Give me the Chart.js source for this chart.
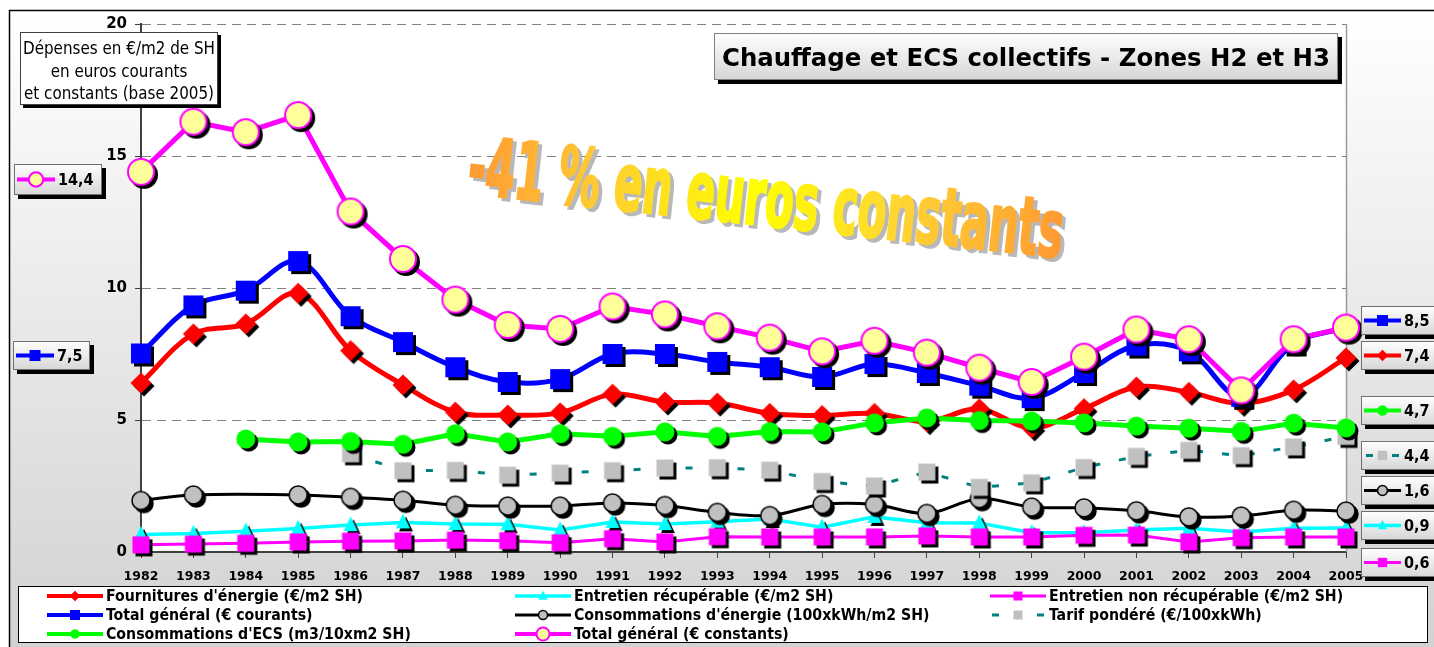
<!DOCTYPE html>
<html>
<head>
<meta charset="utf-8">
<script src="https://cdn.jsdelivr.net/npm/chart.js@4.4.0/dist/chart.umd.min.js"></script>
<style>
html,body{margin:0;padding:0;background:#fff}
#wrap{width:1434px;height:647px}
</style>
</head>
<body>
<div id="wrap"><canvas id="c" width="1434" height="647"></canvas></div>
<script>
// Chauffage et ECS collectifs - Zones H2 et H3 (1982-2005)
const years=["1982","1983","1984","1985","1986","1987","1988","1989","1990","1991","1992","1993","1994","1995","1996","1997","1998","1999","2000","2001","2002","2003","2004","2005"];
const fournitures=[6.4,8.26,8.64,9.8,7.63,6.33,5.3,5.19,5.27,5.98,5.68,5.64,5.25,5.17,5.25,4.94,5.42,4.7,5.43,6.25,6.05,5.63,6.14,7.35];
const totalCourants=[7.52,9.34,9.9,11.02,8.93,7.95,7.0,6.44,6.55,7.5,7.5,7.2,7.0,6.63,7.12,6.78,6.3,5.83,6.78,7.82,7.6,5.88,7.9,8.5];
const consoECS=[null,null,4.28,4.17,4.19,4.08,4.48,4.17,4.48,4.38,4.55,4.38,4.56,4.55,4.89,5.08,4.98,4.96,4.89,4.77,4.69,4.57,4.88,4.7];
const entretienRecup=[0.66,0.7,0.79,0.89,1.02,1.12,1.06,1.05,0.83,1.14,1.06,1.15,1.25,0.94,1.33,1.11,1.1,0.73,0.73,0.83,0.9,0.76,0.9,0.91];
const consoEnergie=[1.95,2.16,null,2.16,2.07,1.96,1.77,1.74,1.74,1.86,1.76,1.5,1.38,1.8,1.8,1.46,2.02,1.7,1.67,1.56,1.33,1.36,1.58,1.55];
const totalConstants=[14.4,16.3,15.9,16.55,12.9,11.1,9.56,8.6,8.45,9.3,9.0,8.55,8.12,7.6,8.0,7.55,6.98,6.44,7.4,8.43,8.06,6.12,8.06,8.5];
const entretienNonRecup=[0.27,0.3,0.33,0.38,0.41,0.42,0.45,0.43,0.35,0.5,0.38,0.58,0.57,0.57,0.57,0.61,0.57,0.57,0.63,0.64,0.38,0.54,0.57,0.57];
const tarif=[null,null,null,null,3.72,3.08,3.09,2.91,2.99,3.08,3.18,3.19,3.1,2.67,2.5,3.03,2.45,2.62,3.2,3.62,3.85,3.65,3.98,4.38];
const yTicks=[0,5,10,15,20];
const leftValues=["14,4","7,5"];
const rightValues=["8,5","7,4","4,7","4,4","1,6","0,9","0,6"];

const titleText="Chauffage et ECS collectifs - Zones H2 et H3";
const axisText=["Dépenses en €/m2 de SH","en euros courants","et constants (base 2005)"];
const annoText="-41 % en euros constants";

// series in legend order (row-major, 3 columns); z = draw order (0 on top)
const series=[
  {key:"fournitures",label:"Fournitures d'énergie (€/m2 SH)",data:fournitures,color:"#FF0000",w:5,tension:0.35,z:3,mk:{t:"diamond",s:21,f:"#FF0000"}},
  {key:"entretienRecup",label:"Entretien récupérable (€/m2 SH)",data:entretienRecup,color:"#00FFFF",w:3.5,tension:0,z:7,mk:{t:"triangle",s:14,f:"#00FFFF"}},
  {key:"entretienNonRecup",label:"Entretien non récupérable (€/m2 SH)",data:entretienNonRecup,color:"#FF00FF",w:3,tension:0,z:6,mk:{t:"square",s:17,f:"#FF00FF"}},
  {key:"totalCourants",label:"Total général (€ courants)",data:totalCourants,color:"#0000FF",w:5,tension:0.35,z:1,mk:{t:"square",s:20,f:"#0000FF"}},
  {key:"consoEnergie",label:"Consommations d'énergie (100xkWh/m2 SH)",data:consoEnergie,color:"#000000",w:3,tension:0.35,z:5,mk:{t:"circle",s:18,f:"#C0C0C0",b:"#000000",bw:1.5}},
  {key:"tarif",label:"Tarif pondéré (€/100xkWh)",data:tarif,color:"#008080",w:3,dash:[7,19],tension:0,z:4,mk:{t:"square",s:17,f:"#C0C0C0"}},
  {key:"consoECS",label:"Consommations d'ECS (m3/10xm2 SH)",data:consoECS,color:"#00FF00",w:5,tension:0,z:2,mk:{t:"circle",s:19,f:"#00FF00"}},
  {key:"totalConstants",label:"Total général (€ constants)",data:totalConstants,color:"#FF00FF",w:5,tension:0,z:0,mk:{t:"circle",s:26,f:"#FFFF99",b:"#FF00FF",bw:2}}
];
const byKey={};series.forEach(s=>byKey[s.key]=s);

const leftBoxes=[{k:"totalConstants",x:14,y:164,w:88,h:31},{k:"totalCourants",x:13,y:341,w:77,h:29}];
const rightBoxes=["totalCourants","fournitures","consoECS","tarif","consoEnergie","entretienRecup","entretienNonRecup"];
const rightBoxY=[306,341,396,441,476,511,548];

const COND='"DejaVu Sans Condensed","DejaVu Sans",sans-serif';

function shape(x,t,cx,cy,s){
  x.beginPath();
  if(t==="circle")x.arc(cx,cy,s/2,0,Math.PI*2);
  else if(t==="square")x.rect(cx-s/2,cy-s/2,s,s);
  else if(t==="diamond"){x.moveTo(cx,cy-s/2);x.lineTo(cx+s/2,cy);x.lineTo(cx,cy+s/2);x.lineTo(cx-s/2,cy);x.closePath()}
  else if(t==="triangle"){x.moveTo(cx,cy-s*0.62);x.lineTo(cx+s/2,cy+s*0.42);x.lineTo(cx-s/2,cy+s*0.42);x.closePath()}
}
function paintMarker(x,m,cx,cy,s){
  shape(x,m.t,cx,cy,s);x.fillStyle=m.f;x.fill();
  if(m.b){x.lineWidth=m.bw;x.strokeStyle=m.b;x.stroke()}
}
// marker with black drop shadow, as an image the library can use as pointStyle
function markerImage(m){
  const pad=Math.ceil(m.s/2+(m.bw||0)+5),n=pad*2,cv=document.createElement("canvas");
  cv.width=n;cv.height=n;const x=cv.getContext("2d");
  shape(x,m.t,pad+3,pad+3,m.s);x.fillStyle="#000";x.fill();
  if(m.b){x.lineWidth=m.bw;x.strokeStyle="#000";x.stroke()}
  paintMarker(x,m,pad,pad,m.s);
  return cv;
}

function fitText(x,text,left,base,w){
  const mw=x.measureText(text).width;
  x.save();x.translate(left,base);x.scale(w/mw,1);x.textAlign="left";x.fillText(text,0,0);x.restore();
}
function icon(x,s,x1,x2,y,sc){
  x.save();x.strokeStyle=s.color;x.lineCap="butt";
  if(s.dash){
    x.lineWidth=3;x.beginPath();x.moveTo(x1+2,y);x.lineTo(x1+9,y);x.moveTo(x2-9,y);x.lineTo(x2-2,y);x.stroke();
  }else{
    x.lineWidth=Math.min(s.w,4);x.beginPath();x.moveTo(x1,y);x.lineTo(x2,y);x.stroke();
  }
  const m=s.mk;paintMarker(x,m,(x1+x2)/2,y,Math.max(9,m.s*sc));
  x.restore();
}
function box(x,bx,by,bw,bh,sh,grad,border){
  x.save();
  x.fillStyle="#000";x.fillRect(bx+sh,by+sh,bw,bh);
  if(grad){const g=x.createLinearGradient(0,by,0,by+bh);g.addColorStop(0,"#ffffff");g.addColorStop(1,"#d6d6d6");x.fillStyle=g}
  else x.fillStyle="#ffffff";
  x.fillRect(bx,by,bw,bh);
  x.strokeStyle=border;x.lineWidth=1;x.strokeRect(bx+0.5,by+0.5,bw-1,bh-1);
  x.restore();
}

const deco={
  id:"deco",
  beforeDraw(c){
    const x=c.ctx,a=c.chartArea;
    x.save();
    x.fillStyle="#fff";x.fillRect(0,0,c.width,c.height);
    const g=x.createLinearGradient(0,10,0,c.height);
    g.addColorStop(0,"#ffffff");g.addColorStop(1,"#d2d2d2");
    x.fillStyle=g;x.fillRect(10,11,c.width-10,c.height-11);
    x.fillStyle="#fff";x.fillRect(a.left,a.top,a.right-a.left,a.bottom-a.top);
    x.strokeStyle="#000";x.lineWidth=1.5;
    x.beginPath();x.moveTo(9.5,c.height);x.lineTo(9.5,10.5);x.lineTo(c.width,10.5);x.stroke();
    x.restore();
  },
  beforeDatasetsDraw(c){
    const x=c.ctx,a=c.chartArea;
    x.save();
    x.strokeStyle="#9a9a9a";x.lineWidth=1.5;
    x.beginPath();x.moveTo(a.right+0.5,a.top);x.lineTo(a.right+0.5,a.bottom);x.stroke();
    // big annotation
    x.translate(466,193);x.rotate(6.2*Math.PI/180);
    x.font='bold 80px '+COND;
    const w=x.measureText(annoText).width,sx=598/w;
    x.scale(sx,1);
    x.fillStyle="#b8b8b8";x.strokeStyle="#b8b8b8";x.lineWidth=2.5;
    x.fillText(annoText,4/sx,3);x.strokeText(annoText,4/sx,3);
    const gr=x.createLinearGradient(0,0,w,0);
    gr.addColorStop(0,"#FF9933");gr.addColorStop(0.22,"#FFCC33");gr.addColorStop(0.48,"#FFFF00");
    gr.addColorStop(0.72,"#FFD633");gr.addColorStop(1,"#FF9933");
    x.fillStyle=gr;x.strokeStyle=gr;
    x.fillText(annoText,0,0);x.strokeText(annoText,0,0);
    x.restore();
  },
  afterDraw(c){
    const x=c.ctx;
    x.save();
    // y-axis caption box
    box(x,20,32,198,73,3,false,"#404040");
    x.fillStyle="#000";x.font="17px "+COND;x.textBaseline="alphabetic";
    const mw0=x.measureText(axisText[0]).width,k=192/mw0;
    [54,77,99].forEach((b,i)=>{const tw=x.measureText(axisText[i]).width*k;fitText(x,axisText[i],119-tw/2,b,tw)});
    // title box
    box(x,714,33,624,47,4,true,"#808080");
    x.fillStyle="#000";x.font="bold 25px "+COND;
    fitText(x,titleText,722,66,608);
    // value boxes
    x.font="bold 16px "+COND;x.textBaseline="middle";
    leftBoxes.forEach((b,i)=>{
      box(x,b.x,b.y,b.w,b.h,4,true,"#707070");
      icon(x,byKey[b.k],b.x+3,b.x+41,b.y+b.h/2,0.55);
      x.fillStyle="#000";x.textAlign="left";x.fillText(leftValues[i],b.x+44,b.y+b.h/2+1);
    });
    rightBoxes.forEach((k,i)=>{
      const bx=1361,by=rightBoxY[i],bh=29;
      box(x,bx,by,80,bh,4,true,"#707070");
      icon(x,byKey[k],bx+3,bx+40,by+bh/2,0.55);
      x.fillStyle="#000";x.textAlign="left";x.fillText(rightValues[i],bx+43,by+bh/2+1);
    });
    // legend
    box(x,18,586,1410,57,0,false,"#000");
    const colX=[47,515,990],rowY=[596,615,634];
    x.font="bold 15.5px "+COND;x.textBaseline="middle";
    const sc=257/x.measureText(series[0].label).width;
    series.forEach((s,i)=>{
      const cx=colX[i%3],cy=rowY[Math.floor(i/3)];
      icon(x,s,cx,cx+56,cy,0.5);
      x.fillStyle="#000";
      fitText(x,s.label,cx+59,cy+1,x.measureText(s.label).width*sc);
    });
    x.restore();
  }
};

new Chart(document.getElementById("c"),{
  type:"line",
  data:{
    labels:years,
    datasets:series.map(s=>({
      label:s.label,data:s.data,borderColor:s.color,backgroundColor:s.color,borderWidth:s.w,
      borderDash:s.dash||[],tension:s.tension,spanGaps:true,clip:false,order:s.z,
      pointStyle:markerImage(s.mk),pointRadius:10,pointHoverRadius:10
    }))
  },
  options:{
    responsive:false,animation:false,devicePixelRatio:1,
    layout:{autoPadding:false,padding:{top:24,right:88,bottom:0,left:0}},
    plugins:{legend:{display:false},tooltip:{enabled:false}},
    events:[],
    scales:{
      x:{
        offset:false,
        grid:{display:true,drawOnChartArea:false,drawTicks:true,tickLength:6,color:"#404040",offset:false},
        border:{color:"#404040",width:2},
        ticks:{autoSkip:false,maxRotation:0,color:"#000",padding:11,font:{family:'"DejaVu Sans",sans-serif',weight:"bold",size:12.5}},
        afterFit:s=>{s.height=95}
      },
      y:{
        min:0,max:20,
        afterBuildTicks:s=>{s.ticks=yTicks.map(v=>({value:v}))},
        grid:{color:"#808080",lineWidth:1,tickLength:6,tickColor:"#404040",tickBorderDash:[]},
        border:{color:"#404040",width:2,dash:[9,6]},
        ticks:{color:"#000",padding:8,font:{family:'"DejaVu Sans",sans-serif',weight:"bold",size:15}},
        afterFit:s=>{s.width=141}
      }
    }
  },
  plugins:[deco]
});
</script>
</body>
</html>
